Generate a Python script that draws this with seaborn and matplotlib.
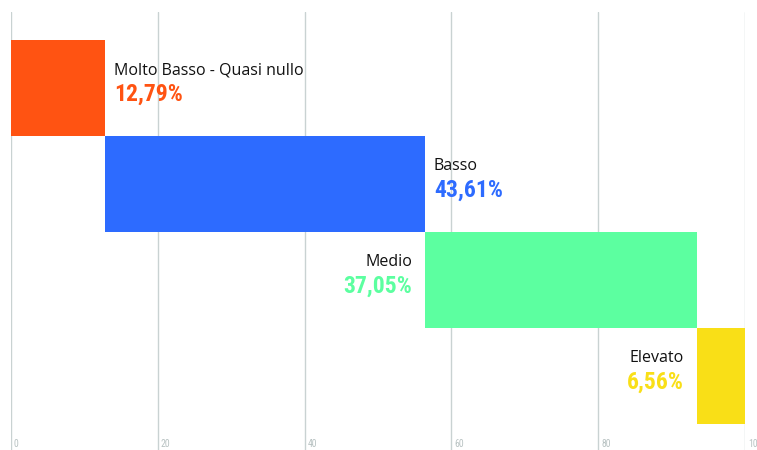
import numpy as np
import matplotlib
matplotlib.use("Agg")
import matplotlib.pyplot as plt
from matplotlib import font_manager
import seaborn as sns

categories = ["Molto Basso - Quasi nullo", "Basso", "Medio", "Elevato"]
values = [12.79, 43.61, 37.05, 6.56]
colors = ["#FF5312", "#2D6BFF", "#5CFFA0", "#F9DF17"]
ticks = [0, 20, 40, 60, 80, 100]

sns.set_theme(style="white")
plt.rcParams["font.family"] = ["Open Sans", "DejaVu Sans"]

# pick a condensed face for the figures, if one is installed
names = {f.name for f in font_manager.fontManager.ttflist}
condensed = [f.name for f in font_manager.fontManager.ttflist
             if str(f.stretch) in ("condensed", "semi-condensed", "extra-condensed", "75", "87", "62")
             or "Condensed" in f.name or "Narrow" in f.name]
preferred = ["Roboto Condensed", "Open Sans Condensed", "Liberation Sans Narrow",
             "DejaVu Sans Condensed", "Noto Sans Condensed"]
narrow = next((n for n in preferred if n in names), condensed[0] if condensed else "DejaVu Sans")
is_narrow = narrow != "DejaVu Sans"

fig = plt.figure(figsize=(7.57, 4.5), dpi=100)
W, H = 757, 450
ax = fig.add_axes([11 / W, 0, (745 - 11) / W, 1 - 12 / H])

starts = np.concatenate([[0], np.cumsum(values)[:-1]])
ypos = np.arange(len(categories))

for x in ticks:
    ax.axvline(x, color="#C9D2D2", lw=1, zorder=0)

ax.barh(ypos, values, left=starts, height=1.0, color=colors, zorder=2, linewidth=0)

ax.set_xlim(0, 100)
ax.set_ylim(3.5 + 26 / 96, -0.5 - 28 / 96)
ax.axis("off")

pct_size = 17 if is_narrow else 14.5
for i, (cat, v, s, c) in enumerate(zip(categories, values, starts, colors)):
    end = s + v
    if end < 60:
        xt, ha, off = end, "left", 9
    else:
        xt, ha, off = s, "right", -13
    tr = matplotlib.transforms.offset_copy(ax.transData, fig=fig, x=off, y=0, units="dots")
    ax.text(xt, i - 0.10, cat, transform=tr, ha=ha, va="bottom",
            fontsize=11.5, color="#111111", family=["Open Sans", "DejaVu Sans"])
    ax.text(xt, i - 0.05, f"{v:.2f}%".replace(".", ","), transform=tr, ha=ha, va="top",
            fontsize=pct_size, fontweight="bold", color=c, family=[narrow, "DejaVu Sans"],
            fontstretch="condensed")

for x in ticks:
    tr = matplotlib.transforms.offset_copy(ax.transData, fig=fig, x=3, y=0, units="dots")
    ax.text(x, 3.5 + 15 / 96, str(x), transform=tr, ha="left", va="top",
            fontsize=7, color="#B8C2C2", family=[narrow, "DejaVu Sans"])

fig.savefig("out.png", dpi=100)
